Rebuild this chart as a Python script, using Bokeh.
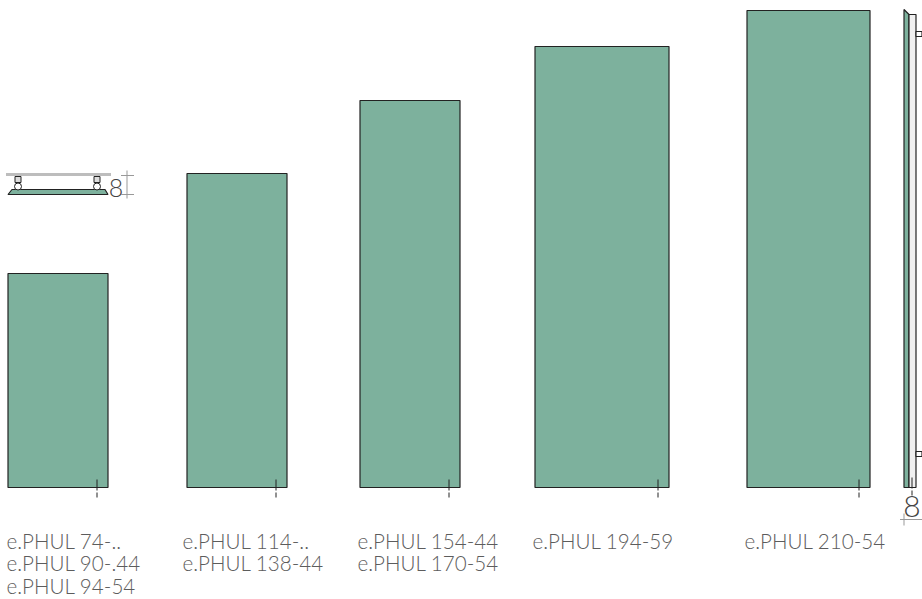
from bokeh.plotting import figure
from bokeh.models import Range1d
from bokeh.core.properties import value
from bokeh.embed import file_html
from bokeh.resources import INLINE

FONT = "Lato Light"
model_left = [8, 187, 360, 535, 747]
model_width = [100, 100, 100, 134, 123]
model_height = [214, 314, 387, 441, 477]
mark_x = [97, 276, 449, 658, 859]
label_x = [6.5, 182.5, 357.5, 532.5, 744.5]
labels = [
    ["e.PHUL 74-..", "e.PHUL 90-.44", "e.PHUL 94-54"],
    ["e.PHUL 114-..", "e.PHUL 138-44"],
    ["e.PHUL 154-44", "e.PHUL 170-54"],
    ["e.PHUL 194-59"],
    ["e.PHUL 210-54"],
]
line_y = [-53, -75, -98]
GREEN = "#7db19d"
DARK = "#222222"
GREY = "#5c5c5c"
DIM = "#999999"

p = figure(width=922, height=599, output_backend="svg", toolbar_location=None,
           x_range=Range1d(0.5, 922.5), y_range=Range1d(-112, 487),
           min_border=0, outline_line_color=None, background_fill_color="white")
p.axis.visible = False
p.grid.visible = False

# front views
p.quad(left=model_left, right=[a + b for a, b in zip(model_left, model_width)],
       bottom=0, top=model_height, fill_color=GREEN, line_color=DARK, line_width=1.2)
p.segment(x0=mark_x, x1=mark_x, y0=[8] * 5, y1=[-3] * 5, line_color=DARK, line_width=1)
p.segment(x0=mark_x, x1=mark_x, y0=[-5] * 5, y1=[-10] * 5, line_color=DARK, line_width=1)

# names
for x, group in zip(label_x, labels):
    for y, t in zip(line_y, group):
        p.text(x=[x], y=[y], text=[t], text_font=value(FONT), text_font_size="20.6px",
               text_color=GREY, text_baseline="middle", text_align="left")

# plan view (top left)
p.line(x=[6, 111], y=[313, 313], line_color="#bdbdbd", line_width=3)
p.patch(x=[8, 12, 105, 108], y=[293, 298, 298, 293], fill_color=GREEN, line_color=DARK, line_width=1.2)
p.quad(left=[15, 94], right=[21, 100], bottom=[305, 305], top=[311, 311],
       fill_color="#dddddd", line_color=DARK, line_width=1)
p.scatter(x=[18, 97], y=[301, 301], size=7, marker="circle", fill_color="white", line_color=DARK)
p.text(x=[116], y=[300], text=["8"], text_font=value(FONT), text_font_size="25px",
       text_color="#444444", text_align="center", text_baseline="middle")
p.segment(x0=[127], x1=[127], y0=[317], y1=[289], line_color=DIM)
p.segment(x0=[121, 121], x1=[134, 134], y0=[312, 293], y1=[312, 293], line_color=DIM)

# side view (right)
p.patch(x=[904, 904, 909, 909], y=[0, 478, 473, 0], fill_color=GREEN, line_color=DARK, line_width=1.2)
p.quad(left=[909], right=[916], bottom=[0], top=[473], fill_color="#f0f0f0", line_color=DARK, line_width=1.2)
p.quad(left=[916, 916], right=[922, 922], bottom=[31, 451], top=[36, 456],
       fill_color="white", line_color=DARK, line_width=1.2)
p.segment(x0=[912, 912], x1=[912, 912], y0=[10, -3], y1=[-1, -8], line_color=DARK)
p.text(x=[912], y=[-19], text=["8"], text_font=value(FONT), text_font_size="30px",
       text_color="#444444", text_align="center", text_baseline="middle")
p.segment(x0=[900], x1=[922], y0=[-32], y1=[-32], line_color=DIM)
p.segment(x0=[904], x1=[904], y0=[-26], y1=[-38], line_color=DIM)

open("out.html", "w").write(file_html(p, INLINE))
